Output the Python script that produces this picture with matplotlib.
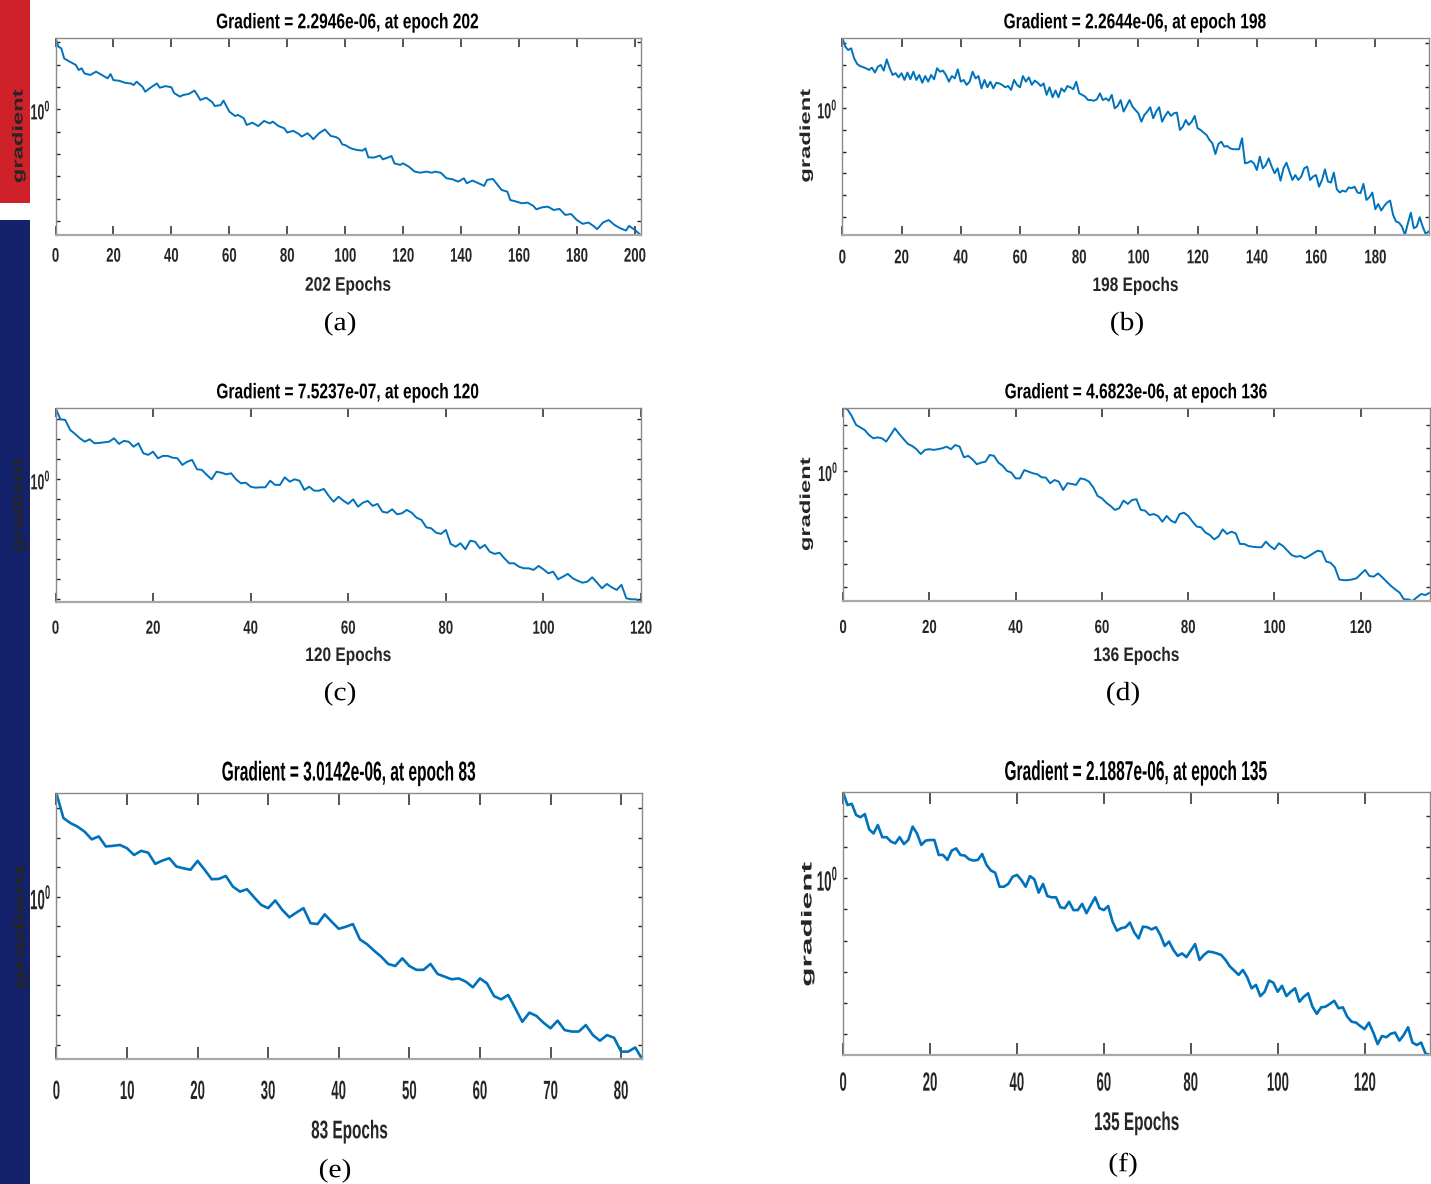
import numpy as np
import matplotlib
matplotlib.use("Agg")
import matplotlib.pyplot as plt
from matplotlib.patches import Rectangle
from matplotlib.patheffects import AbstractPathEffect
from matplotlib.transforms import Affine2D
from matplotlib.ticker import NullLocator

# log10(gradient)
ep_a = [0, 1, 2, 3, 5, 7, 8, 9, 10, 12, 14, 16, 18, 19, 20, 22, 24, 26, 27, 28,
        30, 31, 33, 35, 36, 38, 40, 41, 43, 44, 46, 48, 49, 50, 52, 54, 55, 57, 58, 60,
        62, 63, 65, 66, 68, 70, 72, 74, 75, 77, 79, 80, 82, 84, 85, 87, 88, 89, 91, 93,
        95, 97, 98, 99, 100, 102, 104, 106, 107, 108, 110, 112, 113, 115, 116, 117, 119, 120, 122, 124,
        126, 128, 130, 131, 133, 135, 137, 139, 141, 142, 144, 146, 148, 149, 151, 152, 154, 156, 157, 159,
        161, 163, 165, 166, 168, 170, 172, 174, 176, 178, 180, 182, 184, 186, 187, 189, 191, 193, 195, 197,
        198, 200, 202]
lg_a = [3.21, 2.81, 2.73, 2.28, 2.13, 1.99, 1.76, 1.84, 1.61, 1.54, 1.69, 1.54, 1.39, 1.58, 1.31, 1.28, 1.19, 1.16, 1.09, 1.24,
        1.01, 0.79, 0.99, 1.16, 0.97, 1.04, 0.99, 0.72, 0.57, 0.64, 0.69, 0.84, 0.64, 0.42, 0.52, 0.34, 0.15, 0.19, 0.39, -0.10,
        -0.30, -0.25, -0.40, -0.70, -0.60, -0.75, -0.52, -0.63, -0.55, -0.75, -0.85, -1.04, -0.96, -1.10, -1.22, -1.07, -1.19, -1.34, -1.07, -0.90,
        -1.19, -1.25, -1.34, -1.57, -1.60, -1.75, -1.82, -1.85, -1.75, -2.15, -2.16, -2.07, -2.24, -2.15, -2.09, -2.42, -2.49, -2.42, -2.57, -2.79,
        -2.84, -2.79, -2.84, -2.79, -2.84, -3.09, -3.13, -3.24, -3.09, -3.31, -3.19, -3.31, -3.43, -3.16, -3.12, -3.28, -3.61, -3.69, -4.06, -4.13,
        -4.21, -4.18, -4.33, -4.48, -4.39, -4.36, -4.51, -4.46, -4.73, -4.69, -4.96, -5.13, -5.07, -5.25, -5.37, -5.07, -4.96, -5.18, -5.33, -5.43,
        -5.22, -5.40, -5.63]

# (b) to (f): one value per epoch, starting at epoch 0
lg_b = [3.26, 2.85, 2.69, 2.77, 2.31, 2.05, 1.95, 1.90, 1.85, 1.77, 1.88, 1.65, 1.92, 2.00, 1.74, 2.26, 1.85, 1.54, 1.62, 1.43,
        1.62, 1.31, 1.65, 1.34, 1.69, 1.31, 1.54, 1.18, 1.49, 1.23, 1.54, 1.34, 1.85, 1.69, 1.74, 1.54, 1.23, 1.49, 1.38, 1.80,
        1.23, 1.31, 1.08, 1.23, 1.69, 1.38, 1.49, 0.92, 1.31, 0.97, 1.23, 0.92, 1.18, 1.15, 1.08, 0.97, 1.03, 0.85, 1.31, 1.08,
        0.97, 1.49, 1.23, 1.43, 1.08, 1.28, 1.18, 1.03, 1.15, 0.62, 0.97, 0.51, 0.82, 0.51, 0.92, 0.77, 1.03, 0.97, 0.88, 1.23,
        0.69, 0.62, 0.54, 0.38, 0.38, 0.35, 0.42, 0.69, 0.38, 0.46, 0.35, 0.62, 0.00, 0.11, 0.38, -0.15, 0.11, 0.38, 0.08, -0.08,
        -0.23, -0.62, -0.31, -0.15, 0.05, -0.46, -0.15, 0.05, -0.62, -0.35, -0.15, -0.35, -0.23, -0.20, -1.00, -0.85, -0.54, -0.77, -0.62, -0.35,
        -0.92, -1.00, -1.12, -1.23, -1.46, -1.62, -2.11, -1.65, -1.54, -1.77, -1.74, -1.85, -1.89, -1.89, -1.89, -1.38, -2.54, -2.51, -2.43, -2.54,
        -2.85, -2.23, -2.77, -2.62, -2.31, -2.69, -3.00, -2.77, -3.34, -2.77, -2.51, -2.92, -3.31, -3.08, -3.31, -3.15, -2.77, -2.69, -3.31, -3.15,
        -3.08, -3.62, -3.31, -2.82, -3.38, -3.43, -2.97, -3.74, -3.89, -3.80, -3.85, -3.65, -3.69, -3.62, -3.89, -3.92, -3.49, -4.23, -4.11, -3.89,
        -4.66, -4.42, -4.72, -4.51, -4.35, -4.26, -4.92, -5.23, -5.28, -5.46, -5.85, -5.31, -4.82, -5.54, -5.46, -5.03, -5.46, -5.80, -5.69]
lg_c = [3.58, 3.00, 2.97, 2.47, 2.27, 2.05, 1.88, 2.00, 1.80, 1.82, 1.85, 1.88, 2.05, 1.77, 1.92, 1.88, 1.63, 1.80, 1.30, 1.22,
        1.38, 1.05, 1.17, 1.17, 1.08, 1.05, 0.72, 0.88, 0.97, 0.50, 0.47, 0.22, 0.00, 0.38, 0.33, 0.25, 0.30, 0.00, -0.20, -0.17,
        -0.37, -0.42, -0.40, -0.40, -0.07, -0.28, -0.28, 0.10, -0.12, 0.00, -0.07, -0.53, -0.37, -0.57, -0.57, -0.48, -0.83, -1.12, -0.87, -1.07,
        -1.23, -1.00, -1.37, -1.17, -1.08, -1.33, -1.23, -1.62, -1.67, -1.50, -1.75, -1.70, -1.53, -1.67, -1.92, -2.03, -2.40, -2.45, -2.67, -2.73,
        -2.53, -3.23, -3.37, -3.20, -3.50, -3.07, -3.12, -3.45, -3.28, -3.62, -3.73, -3.67, -3.95, -4.20, -4.20, -4.37, -4.45, -4.45, -4.53, -4.33,
        -4.50, -4.70, -4.62, -5.00, -4.87, -4.73, -4.95, -5.07, -5.17, -5.12, -4.90, -5.17, -5.45, -5.23, -5.40, -5.53, -5.28, -5.95, -6.00, -6.00,
        -6.15]
lg_d = [2.73, 2.66, 2.37, 1.99, 1.88, 1.77, 1.55, 1.41, 1.45, 1.41, 1.27, 1.55, 1.84, 1.60, 1.38, 1.17, 1.08, 0.94, 0.73, 0.91,
        0.94, 0.91, 0.94, 0.98, 1.05, 0.94, 1.12, 1.05, 0.59, 0.65, 0.50, 0.29, 0.36, 0.40, 0.69, 0.65, 0.36, 0.22, 0.00, -0.07,
        -0.32, -0.32, 0.04, -0.03, -0.10, -0.14, -0.27, -0.29, -0.53, -0.39, -0.46, -0.82, -0.53, -0.56, -0.60, -0.32, -0.36, -0.46, -0.71, -1.08,
        -1.18, -1.37, -1.51, -1.68, -1.61, -1.28, -1.42, -1.25, -1.22, -1.68, -1.71, -1.90, -1.86, -1.94, -2.19, -1.94, -2.14, -2.23, -1.86, -1.80,
        -1.94, -2.19, -2.40, -2.43, -2.66, -2.76, -2.95, -2.83, -2.52, -2.72, -2.62, -2.69, -3.15, -3.15, -3.24, -3.27, -3.29, -3.29, -3.05, -3.24,
        -3.38, -3.12, -3.24, -3.44, -3.63, -3.70, -3.67, -3.77, -3.67, -3.55, -3.44, -3.48, -3.91, -3.96, -4.16, -4.68, -4.71, -4.71, -4.68, -4.63,
        -4.45, -4.27, -4.53, -4.56, -4.42, -4.59, -4.78, -4.96, -5.11, -5.25, -5.54, -5.54, -5.61, -5.45, -5.31, -5.35, -5.25]
lg_e = [3.51, 2.67, 2.50, 2.38, 2.21, 1.95, 2.05, 1.71, 1.73, 1.76, 1.65, 1.42, 1.56, 1.50, 1.12, 1.23, 1.31, 1.03, 0.97, 0.92,
        1.22, 0.92, 0.60, 0.61, 0.71, 0.35, 0.18, 0.26, -0.01, -0.27, -0.38, -0.12, -0.44, -0.69, -0.53, -0.38, -0.89, -0.92, -0.59, -0.84,
        -1.08, -1.01, -0.92, -1.44, -1.60, -1.82, -2.02, -2.27, -2.34, -2.08, -2.34, -2.47, -2.47, -2.27, -2.61, -2.70, -2.79, -2.76, -2.87, -3.06,
        -2.76, -2.93, -3.36, -3.47, -3.32, -3.77, -4.23, -3.92, -4.03, -4.26, -4.45, -4.19, -4.51, -4.56, -4.56, -4.34, -4.68, -4.87, -4.68, -4.77,
        -5.24, -5.24, -5.10, -5.50]
lg_f = [2.76, 2.35, 2.39, 2.03, 1.96, 2.06, 1.57, 1.44, 1.71, 1.32, 1.32, 1.18, 1.12, 1.32, 1.10, 1.23, 1.66, 1.44, 1.07, 1.21,
        1.23, 1.23, 0.75, 0.75, 0.59, 0.89, 0.96, 0.75, 0.73, 0.61, 0.57, 0.59, 0.78, 0.43, 0.25, 0.18, -0.27, -0.27, -0.18, 0.05,
        0.11, -0.05, -0.27, 0.07, -0.03, -0.46, -0.18, -0.57, -0.61, -0.61, -0.93, -0.96, -0.75, -1.02, -1.02, -0.82, -1.12, -0.86, -0.61, -0.96,
        -1.02, -0.89, -1.39, -1.68, -1.60, -1.57, -1.42, -1.74, -1.93, -1.55, -1.57, -1.64, -1.57, -1.82, -2.17, -2.03, -2.30, -2.49, -2.41, -2.53,
        -2.32, -2.11, -2.62, -2.46, -2.35, -2.37, -2.41, -2.46, -2.62, -2.83, -2.96, -3.10, -2.94, -3.18, -3.53, -3.42, -3.78, -3.64, -3.28, -3.35,
        -3.64, -3.45, -3.78, -3.64, -3.53, -3.96, -3.80, -3.69, -4.12, -4.35, -4.14, -4.12, -4.03, -3.93, -4.17, -4.14, -4.44, -4.60, -4.63, -4.74,
        -4.84, -4.63, -4.95, -5.32, -5.06, -5.10, -4.99, -4.95, -5.21, -5.03, -4.78, -5.27, -5.35, -5.27, -5.62, -5.67]

final_grad = [2.2946e-06, 2.2644e-06, 7.5237e-07, 4.6823e-06, 3.0142e-06, 2.1887e-06]
final_epoch = [202, 198, 120, 136, 83, 135]
panel_tags = ['(a)', '(b)', '(c)', '(d)', '(e)', '(f)']
x_step = [20, 20, 20, 20, 10, 20]

series = [(ep_a, lg_a), (list(range(len(lg_b))), lg_b), (list(range(len(lg_c))), lg_c),
          (list(range(len(lg_d))), lg_d), (list(range(len(lg_e))), lg_e), (list(range(len(lg_f))), lg_f)]

W, H = 1431, 1184
BLUE = '#0072BD'
INK = '#262626'
SANS = 'Liberation Sans'
SERIF = 'Liberation Serif'
PT = 0.72  # points per pixel at dpi 100


class Squeeze(AbstractPathEffect):
    # the scanned figure was squashed sideways, so rescale the glyph outlines
    def __init__(self, sx=1.0, sy=1.0, anchor=0.5):
        super().__init__()
        self.sx, self.sy, self.anchor = sx, sy, anchor

    def draw_path(self, renderer, gc, tpath, affine, rgbFace=None):
        ext = tpath.get_extents()
        cx = ext.x0 + self.anchor * (ext.x1 - ext.x0)
        cy = (ext.y0 + ext.y1) / 2
        t = Affine2D().translate(-cx, -cy).scale(self.sx, self.sy).translate(cx, cy)
        renderer.draw_path(gc, tpath, t + affine, rgbFace)


# layout in image pixels: axes box (l, t, r, b), tick label gap, title baseline,
# x-label baseline, y-label centre, panel tag centre
layout = [
    dict(box=(55.5, 37.7, 640.6, 235.0), pad=11.7, title_y=28.3, xlab_y=290.7, ylab=(18.5, 136), tag=(340, 324), row=0),
    dict(box=(842.3, 37.7, 1428.6, 235.0), pad=13.3, title_y=28.3, xlab_y=291.0, ylab=(806, 135.5), tag=(1127, 324), row=0),
    dict(box=(55.5, 407.7, 641.0, 602.3), pad=18.4, title_y=398.3, xlab_y=661.0, ylab=(18.5, 505), tag=(340, 694), row=1),
    dict(box=(843.1, 407.7, 1429.8, 601.0), pad=19.0, title_y=398.3, xlab_y=661.0, ylab=(806, 504), tag=(1123, 694), row=1),
    dict(box=(56.4, 793.3, 642.3, 1059.3), pad=20.7, title_y=780.5, xlab_y=1138.3, ylab=(20.4, 927), tag=(335, 1171), row=2),
    dict(box=(843.1, 792.3, 1429.8, 1055.0), pad=16.7, title_y=780.0, xlab_y=1130.0, ylab=(807.5, 924), tag=(1123, 1165), row=2),
]

# per row: (font size pt, scale) -- titles/ticks squeezed sideways,
# y-label stretched along its length, 10^0 stretched upwards
row_style = [
    dict(title=(15.3, 0.73), tick=(14.2, 0.67), xlab=(14.1, 0.79), ylab=(10.5, 1.63), exp=(9.0, 1.75), lw=1.4, xtl=6.5),
    dict(title=(15.3, 0.73), tick=(13.6, 0.70), xlab=(14.1, 0.79), ylab=(10.5, 1.63), exp=(9.0, 1.75), lw=1.4, xtl=6.5),
    dict(title=(19.6, 0.57), tick=(19.0, 0.50), xlab=(18.4, 0.60), ylab=(10.5, 2.17), exp=(9.6, 2.1), lw=1.9, xtl=8.8),
]

fig = plt.figure(figsize=(W / 100, H / 100), dpi=100)

# coloured page strips down the left edge
fig.patches.append(Rectangle((0, 1 - 203 / H), 30 / W, 203 / H, transform=fig.transFigure,
                             facecolor='#cf2129', edgecolor='none', zorder=-1))
fig.patches.append(Rectangle((0, 0), 30 / W, 1 - 220 / H, transform=fig.transFigure,
                             facecolor='#14216b', edgecolor='none', zorder=-1))

for i, (ep, lg) in enumerate(series):
    lay = layout[i]
    st = row_style[lay['row']]
    l, t, r, b = lay['box']
    ax = fig.add_axes([l / W, 1 - b / H, (r - l) / W, (b - t) / H])

    ax.plot(ep, 10.0 ** np.array(lg), color=BLUE, lw=st['lw'])
    ax.set_yscale('log')

    ax.set_xticks(np.arange(0, final_epoch[i] + 1, x_step[i]))
    decades = np.arange(np.ceil(min(lg)), np.floor(max(lg)) + 1)
    ax.set_yticks(10.0 ** decades, [r'$\mathregular{10^{0}}$' if d == 0 else '' for d in decades])
    ax.yaxis.set_minor_locator(NullLocator())
    ax.set_xlim(0, final_epoch[i])
    ax.set_ylim(10.0 ** min(lg), 10.0 ** max(lg))

    ax.tick_params(axis='x', direction='in', top=True, bottom=True, length=st['xtl'], width=1.1,
                   color=INK, labelcolor=INK, labelsize=st['tick'][0], pad=lay['pad'] * PT)
    ax.tick_params(axis='y', direction='in', left=True, right=True, length=3.0, width=1.0,
                   color=INK, labelcolor=INK, labelsize=st['exp'][0], pad=4.5 * PT)
    for lbl in ax.get_xticklabels():
        lbl.set_fontfamily(SANS)
        lbl.set_fontweight('bold')
        lbl.set_path_effects([Squeeze(sx=st['tick'][1])])
    for lbl in ax.get_yticklabels():
        lbl.set_fontfamily(SANS)
        lbl.set_fontweight('bold')
        lbl.set_path_effects([Squeeze(sy=st['exp'][1])])

    for side in ['top', 'right', 'left']:
        ax.spines[side].set_color('#8a8a8a')
        ax.spines[side].set_linewidth(1.0)
    ax.spines['bottom'].set_color('#a8a8a8')
    ax.spines['bottom'].set_linewidth(1.6)

    title = ax.set_title(f'Gradient = {final_grad[i]:.4e}, at epoch {final_epoch[i]}',
                         fontsize=st['title'][0], fontweight='bold', family=SANS, color='black',
                         pad=(t - lay['title_y']) * PT)
    title.set_path_effects([Squeeze(sx=st['title'][1])])

    xl = ax.set_xlabel(f'{final_epoch[i]} Epochs', fontsize=st['xlab'][0], fontweight='bold',
                       family=SANS, color=INK)
    xl.set_va('baseline')
    ax.xaxis.set_label_coords(0.5, (b - lay['xlab_y']) / (b - t))
    xl.set_path_effects([Squeeze(sx=st['xlab'][1])])

    yl = ax.set_ylabel('gradient', fontsize=st['ylab'][0], fontweight='bold', family=SANS, color=INK)
    yl.set_va('center')
    yx, yy = lay['ylab']
    ax.yaxis.set_label_coords((yx - l) / (r - l), (b - yy) / (b - t))
    yl.set_path_effects([Squeeze(sx=st['ylab'][1])])

    tx, ty = lay['tag']
    tag = fig.text(tx / W, 1 - ty / H, panel_tags[i], ha='center', va='center',
                   fontsize=19, family=SERIF, color='black')
    tag.set_path_effects([Squeeze(sx=1.12)])

plt.savefig('out.png', dpi=100)
plt.close()
